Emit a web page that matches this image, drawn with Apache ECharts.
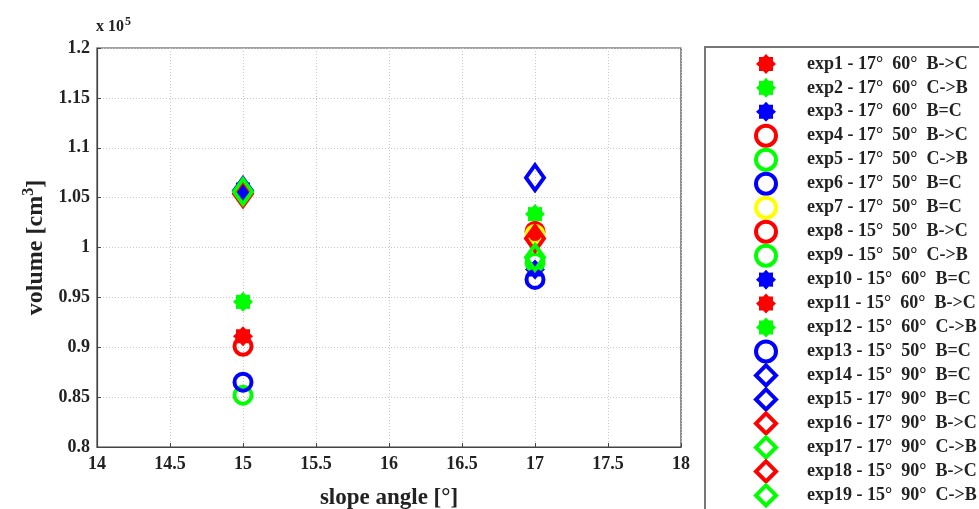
<!DOCTYPE html>
<html>
<head>
<meta charset="utf-8">
<script src="https://cdn.jsdelivr.net/npm/echarts@6/dist/echarts.min.js"></script>
<style>html,body{margin:0;padding:0;background:#fff;}#c{width:979px;height:509px;}</style>
</head>
<body>
<div id="c"></div>
<script>
// ---- data ----
const seriesNames = [
  'exp1 - 17°  60°  B->C', 'exp2 - 17°  60°  C->B', 'exp3 - 17°  60°  B=C',
  'exp4 - 17°  50°  B->C', 'exp5 - 17°  50°  C->B', 'exp6 - 17°  50°  B=C',
  'exp7 - 17°  50°  B=C', 'exp8 - 15°  50°  B->C', 'exp9 - 15°  50°  C->B',
  'exp10 - 15°  60°  B=C', 'exp11 - 15°  60°  B->C', 'exp12 - 15°  60°  C->B',
  'exp13 - 15°  50°  B=C', 'exp14 - 15°  90°  B=C', 'exp15 - 17°  90°  B=C',
  'exp16 - 17°  90°  B->C', 'exp17 - 17°  90°  C->B', 'exp18 - 15°  90°  B->C',
  'exp19 - 15°  90°  C->B'
];
const slopeAngles = [17, 17, 17, 17, 17, 17, 17, 15, 15, 15, 15, 15, 15, 15, 17, 17, 17, 15, 15];
const volumes = [101000, 103350, 97800, 101600, 98500, 96800, 101300, 90100, 85200,
                 105800, 91100, 94550, 86500, 105700, 107000, 100900, 99000, 105400, 105600];
const markerTypes = ['star', 'star', 'star', 'circle', 'circle', 'circle', 'circle', 'circle', 'circle',
                     'star', 'star', 'star', 'circle', 'diamond', 'diamond', 'diamond', 'diamond', 'diamond', 'diamond'];
const markerColors = ['#ff0000', '#00ff00', '#0000ff', '#ff0000', '#00ff00', '#0000ff', '#ffff00', '#ff0000', '#00ff00',
                      '#0000ff', '#ff0000', '#00ff00', '#0000ff', '#0000ff', '#0000ff', '#ff0000', '#00ff00', '#ff0000', '#00ff00'];
const yTickScale = 1e5;

// ---- styles ----
function starPath() {
  const pts = [];
  const n = 8;
  for (let i = 0; i < 2 * n; i++) {
    const r = i % 2 === 0 ? 10 : 7.5;
    const a = Math.PI * i / n - Math.PI / 2;
    pts.push((10 + r * Math.cos(a)).toFixed(2) + ' ' + (10 + r * Math.sin(a)).toFixed(2));
  }
  return 'path://M' + pts.join(' L') + ' Z';
}
const STAR = starPath();
const FONT = '"Liberation Serif", "Times New Roman", serif';

function symbolFor(t) {
  if (t === 'star') return { symbol: STAR, symbolSize: 20 };
  if (t === 'circle') return { symbol: 'circle', symbolSize: 17 };
  return { symbol: 'diamond', symbolSize: [18, 25] };
}
function styleFor(t, c) {
  if (t === 'star') return { color: c, borderWidth: 0, opacity: 1 };
  return { color: 'rgba(255,255,255,0)', borderColor: c, borderWidth: 4, opacity: 1 };
}

const series = seriesNames.map((name, i) => {
  const s = symbolFor(markerTypes[i]);
  return {
    name: name,
    type: 'scatter',
    data: [[slopeAngles[i], volumes[i]]],
    symbol: s.symbol,
    symbolSize: s.symbolSize,
    itemStyle: styleFor(markerTypes[i], markerColors[i]),
    emphasis: { disabled: true },
    z: 2 + i * 0.01
  };
});

const legendData = seriesNames.map((n, i) => {
  const t = markerTypes[i];
  const d = { name: n };
  if (t === 'star') d.itemStyle = { color: markerColors[i], borderWidth: 0 };
  else d.itemStyle = { color: 'rgba(255,255,255,0)', borderColor: markerColors[i], borderWidth: 4 };
  return d;
});

const chart = echarts.init(document.getElementById('c'), null, { renderer: 'canvas' });
chart.setOption({
  animation: false,
  backgroundColor: '#ffffff',
  grid: { left: 97, top: 48, width: 584, height: 399, show: true, borderColor: '#444', borderWidth: 1.2,
          backgroundColor: 'transparent', containLabel: false, outerBoundsMode: 'none' },
  xAxis: {
    type: 'value', min: 14, max: 18, interval: 0.5,
    name: 'slope angle [°]', nameLocation: 'middle', nameGap: 40,
    nameTextStyle: { fontFamily: FONT, fontWeight: 'bold', fontSize: 23, color: '#222' },
    axisLine: { show: true, lineStyle: { color: '#444', width: 1.2 } },
    axisTick: { show: true, inside: true, length: 4, lineStyle: { color: '#444' } },
    axisLabel: { fontFamily: FONT, fontWeight: 'bold', fontSize: 18, color: '#222', margin: 8,
      formatter: v => String(v) },
    splitLine: { show: true, lineStyle: { color: '#c8c8c8', type: [1, 2], width: 1 } }
  },
  yAxis: {
    type: 'value', min: 80000, max: 120000, interval: 5000,
    name: 'volume [cm{sup|3}]', nameLocation: 'middle', nameGap: 45,
    nameTextStyle: { fontFamily: FONT, fontWeight: 'bold', fontSize: 24, color: '#222',
      rich: { sup: { fontFamily: FONT, fontWeight: 'bold', fontSize: 16, color: '#222', verticalAlign: 'top', padding: [0, 0, 14, 0] } } },
    axisLine: { show: true, lineStyle: { color: '#444', width: 1.2 } },
    axisTick: { show: true, inside: true, length: 4, lineStyle: { color: '#444' } },
    axisLabel: { fontFamily: FONT, fontWeight: 'bold', fontSize: 18, color: '#222', margin: 7,
      formatter: v => String(+(v / yTickScale).toFixed(2)) },
    splitLine: { show: true, lineStyle: { color: '#c8c8c8', type: [1, 2], width: 1 } }
  },
  legend: {
    orient: 'vertical', left: 749, top: 47, height: 700,
    itemWidth: 20, itemHeight: 20, itemGap: 0,
    data: legendData,
    textStyle: { fontFamily: FONT, fontWeight: 'bold', fontSize: 18, lineHeight: 23.9, color: '#222', padding: [0, 0, 0, 26] },
    selectedMode: false
  },
  graphic: [
    { type: 'rect', shape: { x: 705, y: 47, width: 300, height: 480 }, style: { fill: 'none', stroke: '#777', lineWidth: 2 }, z: 0 },
    { type: 'text', left: 96, top: 16, style: { text: 'x 10{s|5}', fill: '#222',
        font: 'bold 16px ' + FONT,
        rich: { s: { fontFamily: FONT, fontWeight: 'bold', fontSize: 12, fill: '#222', verticalAlign: 'top', padding: [0, 0, 10, 1] } } } }
  ],
  series: series
});
</script>
</body>
</html>
